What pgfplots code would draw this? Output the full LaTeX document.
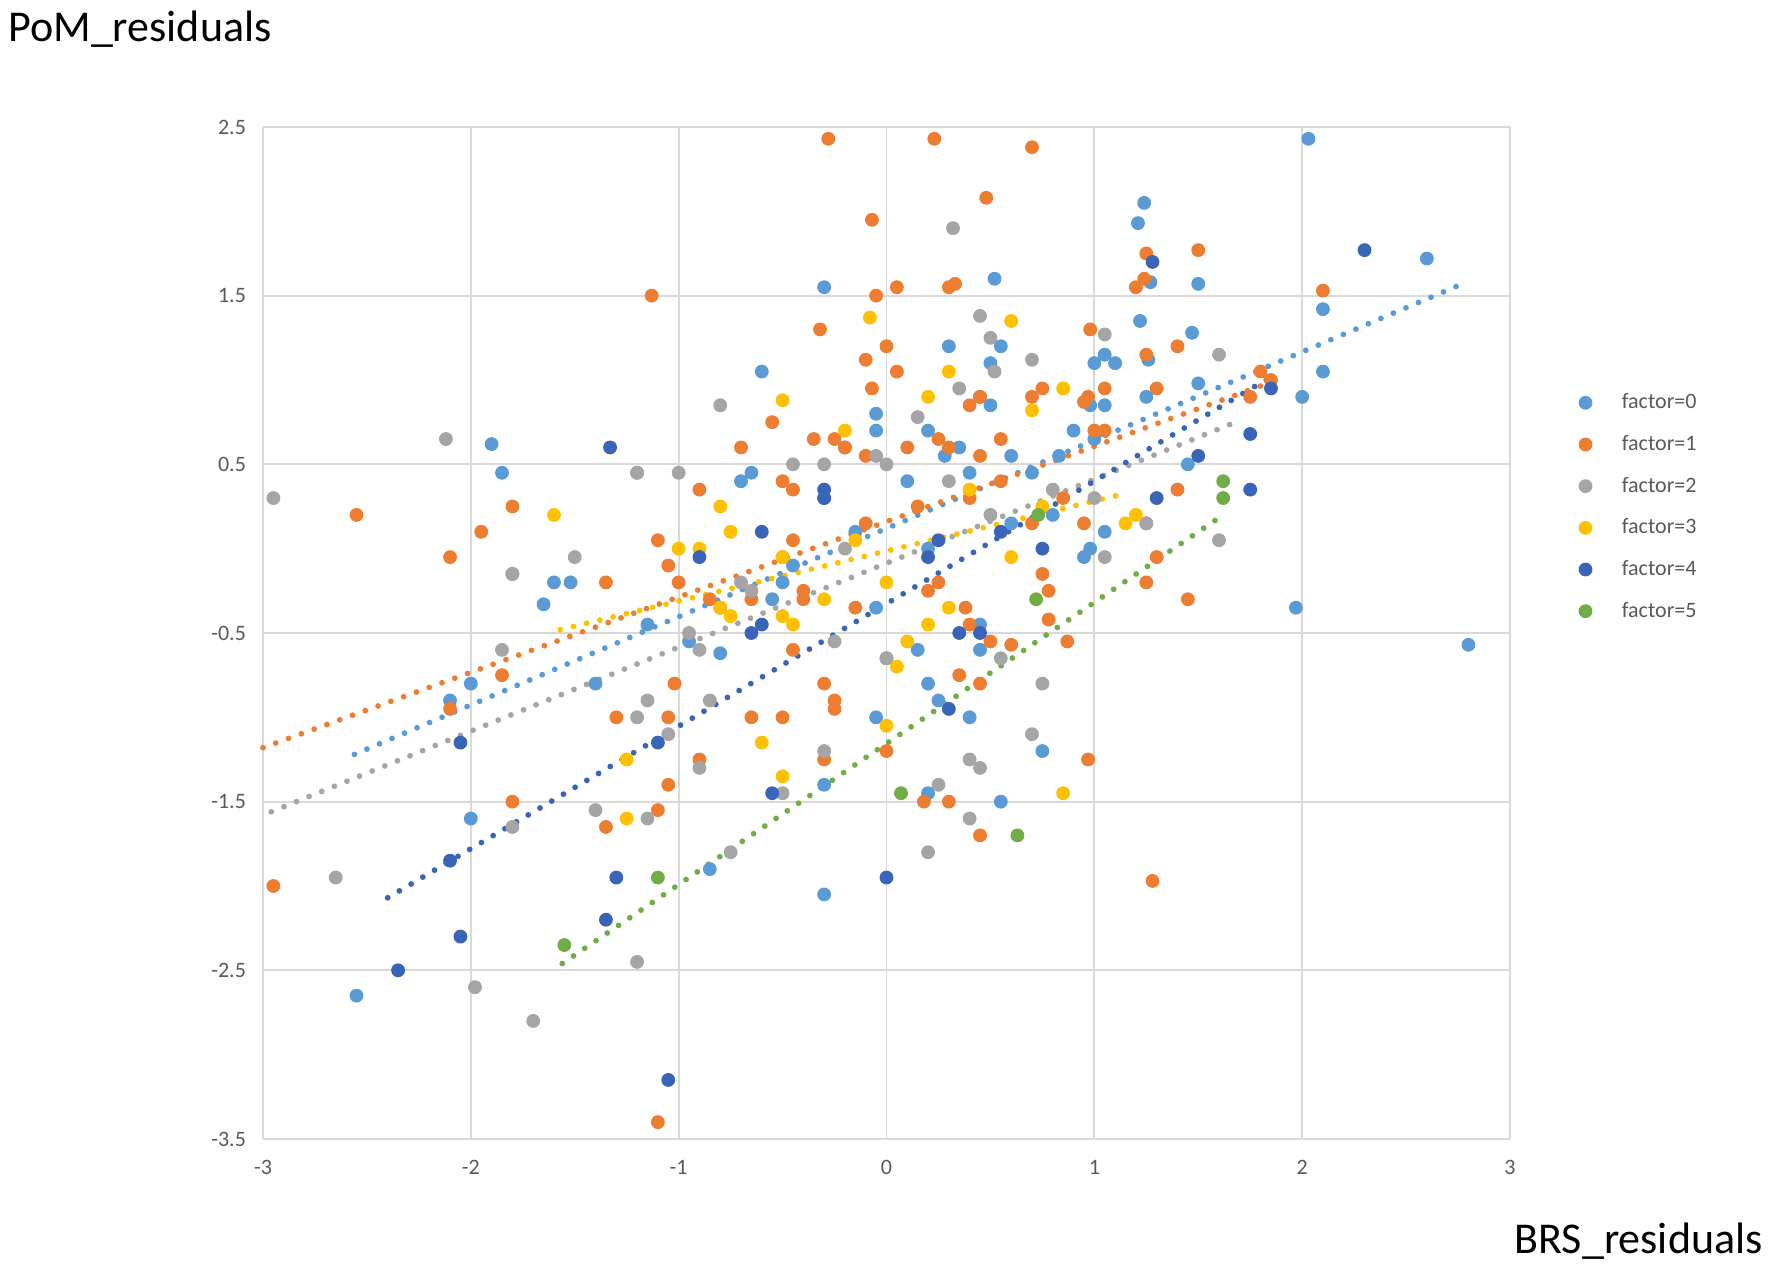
\documentclass[border=0pt]{standalone}
\usepackage{pgfplots}
\pgfplotsset{compat=1.18}
\usepackage{fontspec}
\setmainfont{Carlito}
\definecolor{cA}{HTML}{5B9BD5}
\definecolor{cB}{HTML}{ED7D31}
\definecolor{cC}{HTML}{A5A5A5}
\definecolor{cD}{HTML}{FFC000}
\definecolor{cE}{HTML}{3A64B8}
\definecolor{cF}{HTML}{70AD47}
\definecolor{tickgray}{HTML}{595959}
\definecolor{gridgray}{HTML}{D9D9D9}
\pgfplotsset{
  scat/.style={color=#1, only marks, mark=*, mark size=3.2pt, line width=0.5pt, mark options={draw=#1, fill=#1, solid}},
  trend/.style={color=#1, sharp plot, no marks, line width=2.9pt, line cap=round, dash pattern=on 0pt off 6.8pt, forget plot},
}
\begin{document}
\begin{tikzpicture}
\useasboundingbox (-131.5pt,-69pt) rectangle (754.5pt,569.5pt);
\begin{axis}[
  at={(0,0)}, anchor=south west,
  scale only axis,
  width=623.5pt, height=506pt,
  xmin=-3, xmax=3, ymin=-3.5, ymax=2.5,
  xtick={-3,-2,-1,0,1,2,3},
  xticklabels={-3,-2,-1,0,1,2,3},
  ytick={-3.5,-2.5,-1.5,-0.5,0.5,1.5,2.5},
  yticklabels={-3.5,-2.5,-1.5,-0.5,0.5,1.5,2.5},
  grid=major,
  major grid style={gridgray, line width=0.9pt},
  axis line style={draw=none},
  major tick length=0pt,
  tick label style={font=\fontsize{11}{13}\selectfont, text=tickgray},
  yticklabel style={xshift=-5pt},
  xticklabel style={yshift=-7pt},
  clip=false,
  legend style={draw=none, fill=none, at={(1.0503,0.6245)}, anchor=west,
    font=\fontsize{11}{13}\selectfont, text=tickgray, row sep=7.8pt, column sep=13pt},
  legend cell align=left,
  legend image code/.code={\draw[#1] plot coordinates {(0pt,0pt)};},
]
% factor=0
\addplot[scat=cA] coordinates {
(2.03,2.43) (2.6,1.72) (1.21,1.93) (1.24,2.05) (1.27,1.58) (1.5,1.57) (1.22,1.35)
(1.26,1.12) (1.47,1.28) (1.25,0.9) (1.5,0.98) (2.0,0.9) (2.1,1.42) (2.1,1.05)
(1.45,0.5) (1.05,1.15) (1.0,1.1) (1.1,1.1) (0.98,0.85) (1.05,0.85) (1.0,0.65)
(0.9,0.7) (0.83,0.55) (1.05,0.1) (0.98,0.0) (0.95,-0.05) (1.97,-0.35) (2.8,-0.57)
(0.52,1.6) (0.3,1.2) (0.55,1.2) (0.5,1.1) (0.5,0.85) (0.45,0.9) (0.6,0.55)
(0.35,0.6) (0.2,0.7) (0.28,0.55) (0.4,0.45) (0.1,0.4) (-0.05,0.8) (-0.05,0.7)
(-0.3,1.55) (-0.6,1.05) (-0.65,0.45) (-0.7,0.4) (-0.3,0.3) (-0.2,0.6) (-1.2,0.45)
(-1.9,0.62) (-1.85,0.45) (-1.8,-0.15) (-1.6,-0.2) (-1.52,-0.2) (-1.65,-0.33)
(-2.1,-0.9) (-2.0,-0.8) (-2.0,-1.6) (-2.55,-2.65) (-1.4,-0.8) (-1.15,-0.45)
(-0.95,-0.55) (-0.8,-0.62) (-0.85,-1.9) (-0.3,-2.05) (-0.3,-1.4) (0.0,-0.65)
(-0.05,-1.0) (0.15,-0.6) (0.2,-0.8) (0.25,-0.9) (-0.05,-0.35) (0.4,-1.0) (0.55,-1.5)
(0.2,-1.45) (0.45,-0.6) (0.45,-0.45) (0.2,0.0) (0.75,-1.2) (0.6,0.15) (0.8,0.2)
(-0.45,-0.1) (-0.5,-0.2) (-0.15,0.1) (0.7,0.45) (-0.55,-0.3)
};
\addlegendentry{factor=0}
% factor=1
\addplot[scat=cB] coordinates {
(-0.28,2.43) (0.23,2.43) (0.7,2.38) (0.48,2.08) (-0.07,1.95) (-1.13,1.5)
(-0.05,1.5) (0.05,1.55) (0.3,1.55) (0.33,1.57) (1.25,1.75) (1.5,1.77) (1.2,1.55)
(1.24,1.6) (2.1,1.53) (-0.32,1.3) (0.0,1.2) (-0.1,1.12) (0.05,1.05) (0.98,1.3)
(1.25,1.15) (1.4,1.2) (1.05,0.95) (0.97,0.9) (0.95,0.87) (1.3,0.95) (0.7,0.9)
(0.75,0.95) (-0.07,0.95) (0.4,0.85) (0.45,0.9) (-0.55,0.75) (-0.25,0.65)
(-0.35,0.65) (-0.2,0.6) (-0.1,0.55) (0.1,0.6) (0.25,0.65) (0.3,0.6) (0.45,0.55)
(0.55,0.65) (1.8,1.05) (1.85,1.0) (1.75,0.9) (1.0,0.7) (1.05,0.7) (1.4,0.35)
(1.45,-0.3) (1.25,0.15) (1.3,-0.05) (1.25,-0.2) (1.28,-1.97) (0.97,-1.25)
(0.78,-0.25) (0.75,-0.15) (0.78,-0.42) (0.87,-0.55) (0.6,-0.57) (0.5,-0.55)
(0.45,-0.8) (0.35,-0.75) (0.45,-1.7) (0.3,-1.5) (0.18,-1.5) (0.4,-0.45)
(0.38,-0.35) (0.2,-0.25) (0.25,-0.2) (0.0,-1.2) (-0.3,-1.25) (-0.3,-0.8)
(-0.25,-0.9) (-0.25,-0.95) (-0.45,-0.6) (-0.5,-1.0) (-0.65,-1.0) (-1.05,-1.0)
(-1.02,-0.8) (-1.05,-1.4) (-1.1,-1.55) (-0.9,-1.25) (-1.3,-1.0) (-1.35,-1.65)
(-1.1,-3.4) (-2.95,-2.0) (-1.8,-1.5) (-1.85,-0.75) (-2.1,-0.95) (-2.55,0.2)
(-2.1,-0.05) (-1.95,0.1) (-1.8,0.25) (-1.35,-0.2) (-1.1,0.05) (-1.05,-0.1)
(-1.0,-0.2) (-0.9,0.35) (-0.7,0.6) (-0.5,0.4) (-0.45,0.35) (-0.45,0.05)
(-0.5,-0.05) (-0.8,-0.35) (-0.85,-0.3) (-0.65,-0.3) (-0.4,-0.3) (-0.4,-0.25)
(-0.1,0.15) (0.15,0.25) (0.4,0.3) (0.55,0.4) (0.7,0.15) (0.85,0.3) (0.95,0.15)
(-0.15,-0.35)
};
\addlegendentry{factor=1}
% factor=2
\addplot[scat=cC] coordinates {
(0.32,1.9) (0.45,1.38) (0.5,1.25) (0.52,1.05) (0.7,1.12) (1.05,1.27) (1.6,1.15)
(0.35,0.95) (0.15,0.78) (-0.05,0.55) (0.0,0.5) (-0.8,0.85) (-2.12,0.65)
(-2.95,0.3) (-1.2,0.45) (-1.0,0.45) (-0.45,0.5) (-0.3,0.5) (-0.2,0.0) (-1.5,-0.05)
(-1.8,-0.15) (-1.85,-0.6) (-2.65,-1.95) (-1.98,-2.6) (-1.7,-2.8) (-1.2,-2.45)
(-1.8,-1.65) (-1.2,-1.0) (-1.15,-0.9) (-1.05,-1.1) (-1.4,-1.55) (-1.15,-1.6)
(-0.9,-1.3) (-0.85,-0.9) (-0.75,-1.8) (-0.5,-1.45) (-0.3,-1.2) (0.0,-0.65)
(-0.95,-0.5) (-0.9,-0.6) (-0.7,-0.2) (-0.65,-0.25) (-0.25,-0.55) (0.2,-1.8)
(0.25,-1.4) (0.4,-1.6) (0.4,-1.25) (0.45,-1.3) (0.55,-0.65) (0.7,-1.1)
(0.75,-0.8) (1.05,-0.05) (1.25,0.15) (1.6,0.05) (1.0,0.3) (0.5,0.2) (0.8,0.35)
(0.3,0.4)
};
\addlegendentry{factor=2}
% factor=3
\addplot[scat=cD] coordinates {
(-0.08,1.37) (0.6,1.35) (0.2,0.9) (0.3,1.05) (-0.5,0.88) (0.7,0.82) (0.85,0.95)
(-0.2,0.7) (-1.6,0.2) (-0.8,0.25) (-0.75,0.1) (-1.0,0.0) (-0.9,0.0) (-0.8,-0.35)
(-0.75,-0.4) (-0.5,-0.05) (-0.5,-0.4) (-0.45,-0.45) (-0.3,-0.3) (-0.15,0.05)
(0.0,-0.2) (0.2,-0.45) (0.1,-0.55) (0.05,-0.7) (-0.6,-1.15) (-0.5,-1.35)
(-1.25,-1.25) (-1.25,-1.6) (0.3,-0.35) (0.6,-0.05) (0.0,-1.05) (0.85,-1.45)
(1.15,0.15) (1.2,0.2) (0.75,0.25) (0.4,0.35)
};
\addlegendentry{factor=3}
% factor=4
\addplot[scat=cE] coordinates {
(2.3,1.77) (1.28,1.7) (1.85,0.95) (1.75,0.68) (1.5,0.55) (1.3,0.3) (1.75,0.35)
(-1.33,0.6) (-0.3,0.35) (-0.3,0.3) (-0.6,0.1) (0.2,-0.05) (0.25,0.05)
(-0.6,-0.45) (-0.65,-0.5) (0.35,-0.5) (0.45,-0.5) (0.3,-0.95) (-0.55,-1.45)
(-1.1,-1.15) (-2.05,-1.15) (-2.1,-1.85) (-2.05,-2.3) (-2.35,-2.5) (-1.3,-1.95)
(-1.35,-2.2) (-1.05,-3.15) (0.0,-1.95) (-0.9,-0.05) (0.75,0.0) (0.55,0.1)
};
\addlegendentry{factor=4}
% factor=5
\addplot[scat=cF] coordinates {
(1.62,0.4) (1.62,0.3) (0.72,-0.3) (0.07,-1.45) (0.63,-1.7) (-1.1,-1.95)
(-1.55,-2.35) (0.73,0.2)
};
\addlegendentry{factor=5}
% trend lines
\addplot[trend=cA] coordinates {(-2.56,-1.22) (2.79,1.58)};
\addplot[trend=cB] coordinates {(-3.0,-1.18) (1.88,1.0)};
\addplot[trend=cC] coordinates {(-2.96,-1.56) (1.66,0.74)};
\addplot[trend=cD] coordinates {(-1.57,-0.48) (1.16,0.33)};
\addplot[trend=cE] coordinates {(-2.40,-2.07) (1.88,1.04)};
\addplot[trend=cF] coordinates {(-1.56,-2.46) (1.62,0.20)};
\end{axis}
\node[anchor=base west, font=\fontsize{22}{26}\selectfont, inner sep=0pt] at (-127.5pt,548.5pt) {PoM\_residuals};
\node[anchor=base east, font=\fontsize{22}{26}\selectfont, inner sep=0pt] at (750pt,-57.5pt) {BRS\_residuals};
\end{tikzpicture}
\end{document}
